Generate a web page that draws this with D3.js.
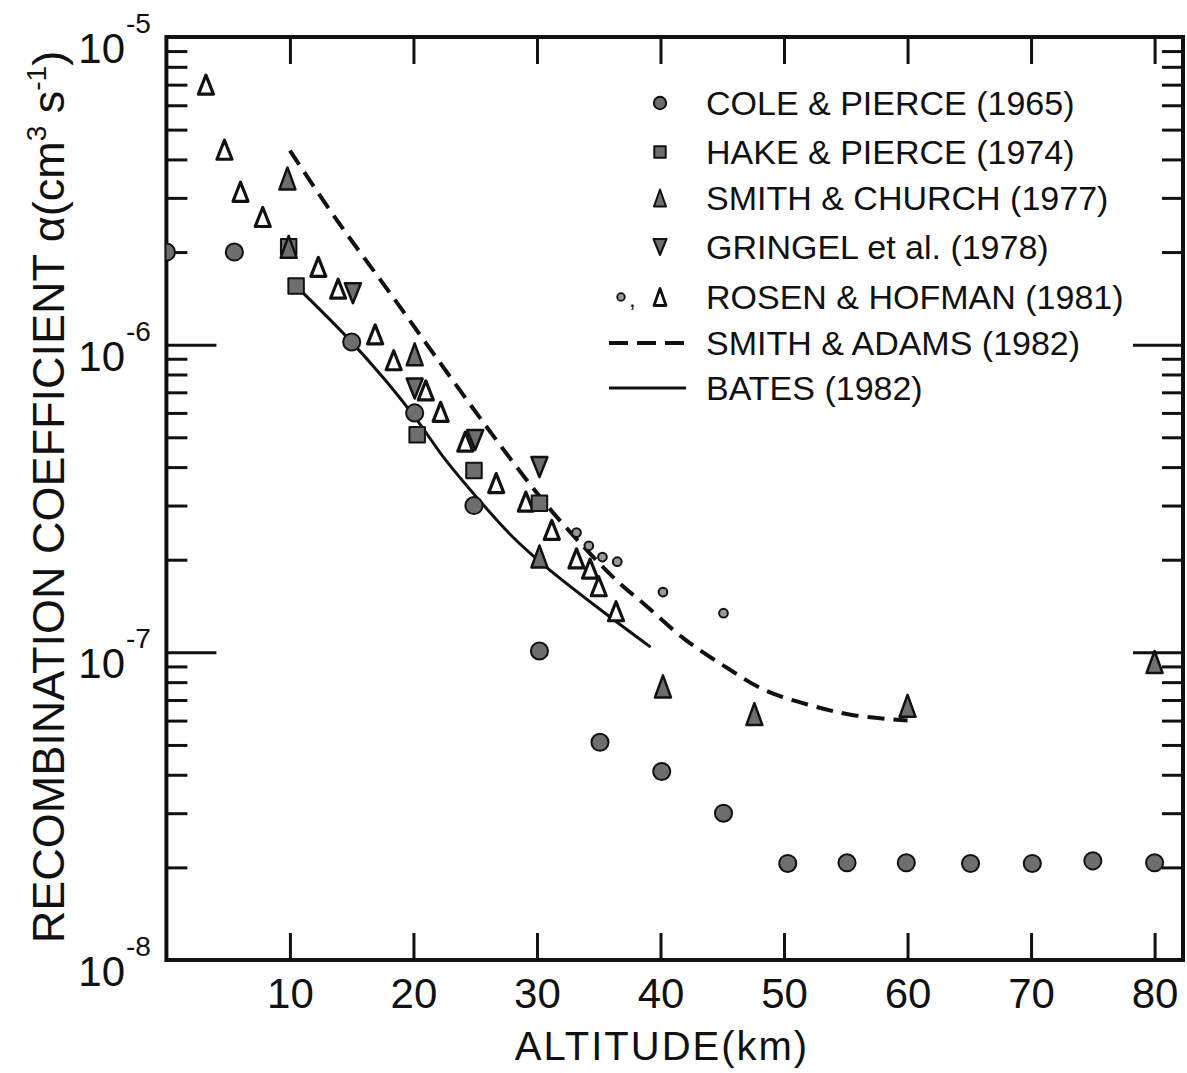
<!DOCTYPE html>
<html>
<head>
<meta charset="utf-8">
<script src="https://cdn.jsdelivr.net/npm/d3@7"></script>
<style>
  html, body { margin: 0; padding: 0; background: #fff; }
  svg { display: block; font-family: "Liberation Sans", Arial, sans-serif; }
</style>
</head>
<body>
<div id="stage"></div>
<script>
(function(d3) {
    'use strict';

    // altitudes in km, alpha in cm^3 s^-1
    var coleAlt   = [0, 5.5, 15, 20.1, 24.9, 30.2, 35.1, 40.1, 45.1, 50.3, 55.1, 59.9, 65.1, 70.1, 75.0, 80.0];
    var coleAlpha = [2.0e-6, 2.0e-6, 1.02e-6, 6.0e-7, 3.0e-7, 1.01e-7, 5.1e-8, 4.1e-8, 3.0e-8,
                     2.06e-8, 2.07e-8, 2.07e-8, 2.06e-8, 2.06e-8, 2.1e-8, 2.07e-8];

    var hakeAlt   = [9.9, 10.5, 20.3, 24.9, 30.2];
    var hakeAlpha = [2.08e-6, 1.55e-6, 5.1e-7, 3.9e-7, 3.05e-7];

    var churchAlt   = [9.8, 9.9, 20.1, 30.2, 40.2, 47.6, 60.0, 80.0];
    var churchAlpha = [3.47e-6, 2.08e-6, 9.3e-7, 2.05e-7, 7.75e-8, 6.3e-8, 6.7e-8, 9.3e-8];

    var gringelAlt   = [15.1, 20.1, 25.0, 30.2];
    var gringelAlpha = [1.47e-6, 7.2e-7, 4.9e-7, 4.0e-7];

    var rosenDotAlt   = [33.2, 34.2, 35.3, 36.5, 40.2, 45.1];
    var rosenDotAlpha = [2.45e-7, 2.22e-7, 2.04e-7, 1.97e-7, 1.57e-7, 1.34e-7];

    var rosenTriAlt   = [3.2, 4.7, 6.0, 7.8, 12.3, 13.9, 16.9, 18.4, 21.0, 22.2, 24.2, 26.7,
                         29.1, 31.2, 33.2, 34.3, 35.0, 36.4];
    var rosenTriAlpha = [7.0e-6, 4.3e-6, 3.14e-6, 2.6e-6, 1.79e-6, 1.52e-6, 1.08e-6, 8.9e-7,
                         7.1e-7, 6.05e-7, 4.84e-7, 3.55e-7, 3.09e-7, 2.5e-7, 2.02e-7, 1.87e-7,
                         1.64e-7, 1.36e-7];

    var adamsAlt   = [10.0, 13.8, 17.9, 21.6, 25.9, 29.9, 32.3, 36.4, 38.9, 42.0, 45.2, 48.4, 52.0, 55.5, 60.0];
    var adamsAlpha = [4.27e-6, 2.54e-6, 1.51e-6, 9.38e-7, 5.42e-7, 3.33e-7, 2.56e-7, 1.72e-7,
                      1.41e-7, 1.10e-7, 9.0e-8, 7.55e-8, 6.75e-8, 6.26e-8, 6.0e-8];

    var batesAlt   = [10.5, 14.6, 17.8, 20.2, 22.6, 25.3, 28.0, 30.7, 35.2, 39.2];
    var batesAlpha = [1.55e-6, 1.06e-6, 7.6e-7, 5.75e-7, 4.22e-7, 3.13e-7, 2.38e-7, 1.9e-7, 1.37e-7, 1.04e-7];

    var xTicks = [10, 20, 30, 40, 50, 60, 70, 80];
    var yMajor = [1e-5, 1e-6, 1e-7, 1e-8];
    var yExp   = ['-5', '-6', '-7', '-8'];

    var legendLabels = ['COLE & PIERCE (1965)', 'HAKE & PIERCE (1974)', 'SMITH & CHURCH (1977)',
                        'GRINGEL et al. (1978)', 'ROSEN & HOFMAN (1981)', 'SMITH & ADAMS (1982)',
                        'BATES (1982)'];
    var legendKinds  = ['circle', 'square', 'tri', 'tridown', 'rosen', 'dash', 'solid'];

    function zip(a, b) { return a.map(function(v, i) { return [v, b[i]]; }); }

    var W = 1187, H = 1073,
        left = 166.4, right = 1183, top = 37, bottom = 960;

    var x = d3.scaleLinear().domain([0, 82.3]).range([left, right]);
    var y = d3.scaleLog().domain([1e-8, 1e-5]).range([bottom, top]);

    var yMinor = [];
    [1e-8, 1e-7, 1e-6].forEach(function(dec) {
        for (var k = 2; k <= 9; k++) { yMinor.push(dec * k); }
    });

    var svg = d3.select('#stage').append('svg')
        .attr('width', W).attr('height', H);

    svg.append('clipPath').attr('id', 'plotclip')
        .append('rect')
        .attr('x', left).attr('y', top)
        .attr('width', right - left).attr('height', bottom - top);

    // ticks, all pointing inward
    function styleAxis(g) {
        g.select('.domain').remove();
        g.selectAll('.tick line').attr('stroke', '#111').attr('stroke-width', 3);
        g.selectAll('.tick text').remove();
    }

    svg.append('g').attr('transform', 'translate(0,' + top + ')')
        .call(d3.axisBottom(x).tickValues(xTicks).tickSize(27)).call(styleAxis);

    var bottomAxis = svg.append('g').attr('transform', 'translate(0,' + bottom + ')')
        .call(d3.axisBottom(x).tickValues(xTicks).tickSize(-27).tickPadding(18));
    bottomAxis.select('.domain').remove();
    bottomAxis.selectAll('.tick line').attr('stroke', '#111').attr('stroke-width', 3);
    bottomAxis.selectAll('.tick text')
        .attr('fill', '#111')
        .style('font-size', '42px')
        .style('font-family', '"Liberation Sans", Arial, sans-serif');

    svg.append('g').attr('transform', 'translate(' + left + ',0)')
        .call(d3.axisRight(y).tickValues(yMajor.slice(1, 3)).tickSize(50)).call(styleAxis);
    svg.append('g').attr('transform', 'translate(' + left + ',0)')
        .call(d3.axisRight(y).tickValues(yMinor).tickSize(21)).call(styleAxis);
    svg.append('g').attr('transform', 'translate(' + right + ',0)')
        .call(d3.axisLeft(y).tickValues(yMajor.slice(1, 3)).tickSize(50)).call(styleAxis);
    svg.append('g').attr('transform', 'translate(' + right + ',0)')
        .call(d3.axisLeft(y).tickValues(yMinor).tickSize(21)).call(styleAxis);

    // frame
    svg.append('rect')
        .attr('x', left).attr('y', top)
        .attr('width', right - left).attr('height', bottom - top)
        .attr('fill', 'none').attr('stroke', '#111').attr('stroke-width', 4);

    // y tick labels 10^-n
    var ylab = svg.append('g').selectAll('text')
        .data(yMajor)
        .enter().append('text')
        .attr('fill', '#111')
        .attr('y', function(d) { return y(d) + 26; });
    ylab.append('tspan')
        .attr('x', 125).attr('text-anchor', 'end')
        .style('font-size', '42px')
        .text('10');
    ylab.append('tspan')
        .attr('x', 126)
        .attr('dy', -30)
        .style('font-size', '28px')
        .text(function(d, i) { return yExp[i]; });

    // curves
    var line = d3.line()
        .x(function(d) { return x(d[0]); })
        .y(function(d) { return y(d[1]); })
        .curve(d3.curveCatmullRom.alpha(0.5));

    svg.append('path')
        .datum(zip(adamsAlt, adamsAlpha))
        .attr('d', line)
        .attr('fill', 'none').attr('stroke', '#111')
        .attr('stroke-width', 4).attr('stroke-dasharray', '17,9');

    svg.append('path')
        .datum(zip(batesAlt, batesAlpha))
        .attr('d', line)
        .attr('fill', 'none').attr('stroke', '#111')
        .attr('stroke-width', 3);

    // marker shapes
    function triPath(w, h, down) {
        var s = down ? -1 : 1;
        return 'M0,' + (-s * h / 2) + 'L' + (w / 2) + ',' + (s * h / 2) + 'L' + (-w / 2) + ',' + (s * h / 2) + 'Z';
    }
    var grey = '#6e6e6e';
    var shapes = {
        circle:  { d: d3.symbol(d3.symbolCircle, 230)(), fill: grey, sw: 2 },
        square:  { d: d3.symbol(d3.symbolSquare, 240)(), fill: grey, sw: 2 },
        tri:     { d: triPath(16, 22, false), fill: grey, sw: 2.5 },
        tridown: { d: triPath(16, 20, true), fill: grey, sw: 2.5 },
        open:    { d: triPath(15, 19, false), fill: '#fff', sw: 3.2 },
        dot:     { d: d3.symbol(d3.symbolCircle, 60)(), fill: '#999', sw: 2 }
    };

    var marks = svg.append('g').attr('clip-path', 'url(#plotclip)');

    function drawSeries(alt, alpha, kind) {
        var s = shapes[kind];
        marks.append('g').selectAll('path')
            .data(zip(alt, alpha))
            .enter().append('path')
            .attr('transform', function(d) { return 'translate(' + x(d[0]) + ',' + y(d[1]) + ')'; })
            .attr('d', s.d)
            .attr('fill', s.fill)
            .attr('stroke', '#111')
            .attr('stroke-width', s.sw)
            .attr('stroke-linejoin', 'round');
    }

    drawSeries(rosenTriAlt, rosenTriAlpha, 'open');
    drawSeries(coleAlt, coleAlpha, 'circle');
    drawSeries(hakeAlt, hakeAlpha, 'square');
    drawSeries(gringelAlt, gringelAlpha, 'tridown');
    drawSeries(churchAlt, churchAlpha, 'tri');
    drawSeries(rosenDotAlt, rosenDotAlpha, 'dot');

    // legend
    var legendY = [103, 152, 198, 247, 297, 343, 388];
    var leg = svg.append('g').selectAll('g')
        .data(legendLabels)
        .enter().append('g')
        .attr('transform', function(d, i) { return 'translate(0,' + legendY[i] + ')'; });

    leg.append('text')
        .attr('x', 706).attr('y', 12)
        .attr('fill', '#111')
        .style('font-size', '34px')
        .text(function(d) { return d; });

    leg.each(function(d, i) {
        var g = d3.select(this), kind = legendKinds[i];
        function sym(path, fill, sw, cx) {
            g.append('path').attr('d', path)
                .attr('transform', 'translate(' + cx + ',0)')
                .attr('fill', fill).attr('stroke', '#111').attr('stroke-width', sw)
                .attr('stroke-linejoin', 'round');
        }
        if (kind === 'circle') { sym(d3.symbol(d3.symbolCircle, 120)(), grey, 2, 660); }
        if (kind === 'square') { sym(d3.symbol(d3.symbolSquare, 130)(), grey, 2, 660); }
        if (kind === 'tri') { sym(triPath(12, 17, false), grey, 2, 660); }
        if (kind === 'tridown') { sym(triPath(13, 16, true), grey, 2, 660); }
        if (kind === 'rosen') {
            sym(d3.symbol(d3.symbolCircle, 45)(), '#999', 1.8, 621);
            g.append('text').attr('x', 629).attr('y', 10).attr('fill', '#111')
                .style('font-size', '24px').text(',');
            sym(triPath(12, 17, false), '#fff', 2.8, 660);
        }
        if (kind === 'dash' || kind === 'solid') {
            g.append('line')
                .attr('x1', 609).attr('x2', 686).attr('y1', 0).attr('y2', 0)
                .attr('stroke', '#111')
                .attr('stroke-width', kind === 'dash' ? 4 : 3)
                .attr('stroke-dasharray', kind === 'dash' ? '19,9' : null);
        }
    });

    // axis titles
    svg.append('text')
        .attr('x', 662).attr('y', 1060)
        .attr('text-anchor', 'middle')
        .attr('fill', '#111')
        .style('font-size', '40px')
        .style('letter-spacing', '2px')
        .text('ALTITUDE(km)');

    var yt = svg.append('text')
        .attr('transform', 'translate(64,497) rotate(-90)')
        .attr('text-anchor', 'middle')
        .attr('fill', '#111')
        .style('font-size', '45px');
    yt.append('tspan').text('RECOMBINATION  COEFFICIENT α(cm');
    yt.append('tspan').attr('dy', -18).style('font-size', '28px').text('3');
    yt.append('tspan').attr('dy', 18).text(' s');
    yt.append('tspan').attr('dy', -18).style('font-size', '28px').text('-1');
    yt.append('tspan').attr('dy', 18).text(')');

})(window.d3);
</script>
</body>
</html>
